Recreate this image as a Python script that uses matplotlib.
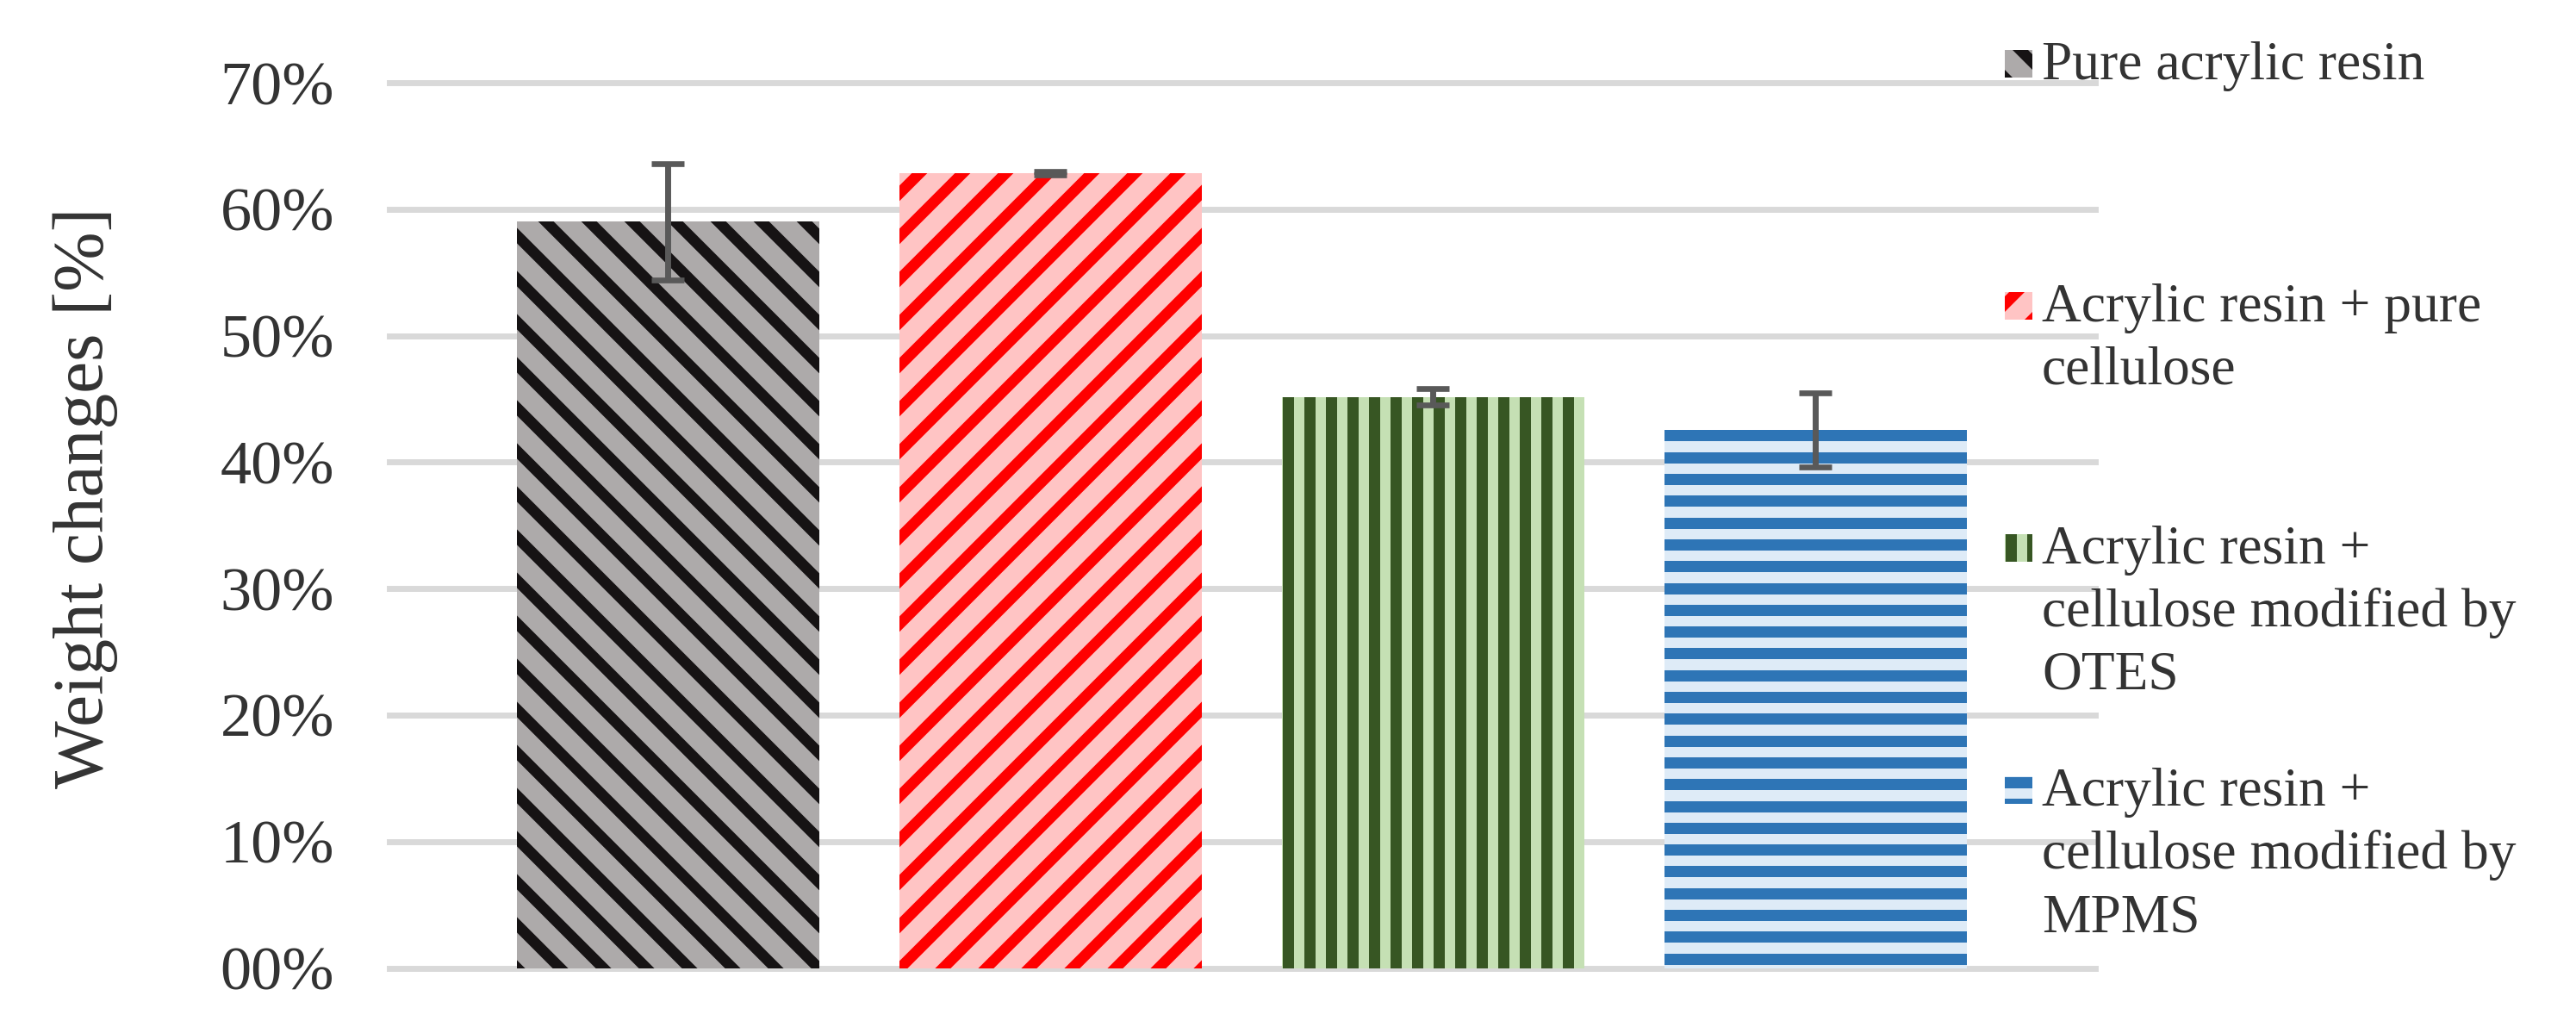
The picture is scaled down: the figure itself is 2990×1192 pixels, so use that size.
import numpy as np
import matplotlib
matplotlib.use('Agg')
import matplotlib.pyplot as plt
from matplotlib.collections import LineCollection
from matplotlib.patches import Rectangle
from matplotlib.transforms import IdentityTransform

# ---------------- data ----------------
categories = ["Pure acrylic resin",
              "Acrylic resin + pure cellulose",
              "Acrylic resin + cellulose modified by OTES",
              "Acrylic resin + cellulose modified by MPMS"]
legend_labels = ["Pure acrylic resin",
                 "Acrylic resin + pure\ncellulose",
                 "Acrylic resin +\ncellulose modified by\nOTES",
                 "Acrylic resin +\ncellulose modified by\nMPMS"]
values = [59.0, 62.85, 45.15, 42.55]
errors = [4.6, 0.15, 0.65, 2.95]
yticks = [0, 10, 20, 30, 40, 50, 60, 70]
ytick_labels = ["00%", "10%", "20%", "30%", "40%", "50%", "60%", "70%"]
ylabel = "Weight changes [%]"

# ---------------- style ----------------
bg_colors = ['#ADAAAA', '#FFC4C4', '#C5E0B4', '#DEEBF7']
stripe_colors = ['#161314', '#FF0000', '#375623', '#2E75B6']
stripe_kinds = ['\\', '/', '|', '-']
stripe_period = [50, 50, 25, 25.3]   # px
stripe_width = [12.7, 12.7, 13, 13]  # px
text_color = '#333333'

W, H = 2990, 1192
DPI = 100
plt.rcParams['font.family'] = ['Liberation Serif', 'DejaVu Serif']

fig = plt.figure(figsize=(W / DPI, H / DPI), dpi=DPI)
ax = fig.add_axes([452 / W, 1 - 1123.5 / H, (2432 - 452) / W, (1123.5 - 96) / H])

x = np.arange(len(categories))
bars = ax.bar(x, values, width=0.79, color=bg_colors, linewidth=0, zorder=2)
ax.set_xlim(-0.7286, 3.7309)
ax.set_ylim(0, 70)

ax.errorbar(x, values, yerr=errors, fmt='none', ecolor='#595959',
            elinewidth=5, capsize=14, capthick=4.8, zorder=4)

ax.set_yticks(yticks, ytick_labels)
ax.set_xticks([])
ax.tick_params(axis='y', length=0, pad=46, labelsize=52, labelcolor=text_color)
for s in ax.spines.values():
    s.set_visible(False)
ax.set_axisbelow(True)
ax.yaxis.grid(True, color='#D9D9D9', linewidth=5)
for gl in ax.get_ygridlines():
    gl.set_clip_on(False)


def stripe_segments(bb, kind, period, lw):
    x0, y0, x1, y1 = bb.x0, bb.y0, bb.x1, bb.y1
    m = 5
    if kind == '|':
        xs = np.arange(x0 + lw / 2, x1 + lw, period)
        return [[(xx, y0 - m), (xx, y1 + m)] for xx in xs]
    if kind == '-':
        ys = np.arange(y1 - lw / 2, y0 - lw, -period)
        return [[(x0 - m, yy), (x1 + m, yy)] for yy in ys]
    if kind == '\\':
        cs = np.arange(x0 + y0 - period, x1 + y1 + period, period)
        return [[(c - (y1 + m), y1 + m), (c - (y0 - m), y0 - m)] for c in cs]
    # '/'
    cs = np.arange(y0 - x1 - period, y1 - x0 + period, period)
    return [[((y0 - m) - c, y0 - m), ((y1 + m) - c, y1 + m)] for c in cs]


def make_stripes(patch, i, z):
    bb = patch.get_window_extent()
    segs = stripe_segments(bb, stripe_kinds[i], stripe_period[i], stripe_width[i])
    lc = LineCollection(segs, colors=stripe_colors[i],
                        linewidths=stripe_width[i] * 72 / DPI,
                        transform=IdentityTransform(), zorder=z,
                        capstyle='butt')
    return lc


for i, b in enumerate(bars):
    lc = make_stripes(b, i, 2.5)
    ax.add_collection(lc, autolim=False)
    lc.set_clip_path(b)

# ---------------- legend (manual, Excel-like) ----------------
legend_baselines = [92, 373, 654, 935]  # px from top
line_gap = 73
for i, lab in enumerate(legend_labels):
    yb = legend_baselines[i]
    rect = Rectangle((2327, H - (yb - 2)), 32, 32, transform=IdentityTransform(),
                     facecolor=bg_colors[i], linewidth=0, zorder=3)
    fig.add_artist(rect)
    lc = make_stripes(rect, i, 3.5)
    fig.add_artist(lc)
    lc.set_clip_path(rect)
    for k, line in enumerate(lab.split('\n')):
        fig.text(2370 / W, 1 - (yb + k * line_gap) / H, line, ha='left',
                 va='baseline', fontsize=45.7, color=text_color)

fig.text(99 / W, 1 - 578 / H, ylabel, rotation=90, ha='center', va='center',
         fontsize=60, color=text_color)

fig.savefig('out.png', dpi=DPI, facecolor='white')
